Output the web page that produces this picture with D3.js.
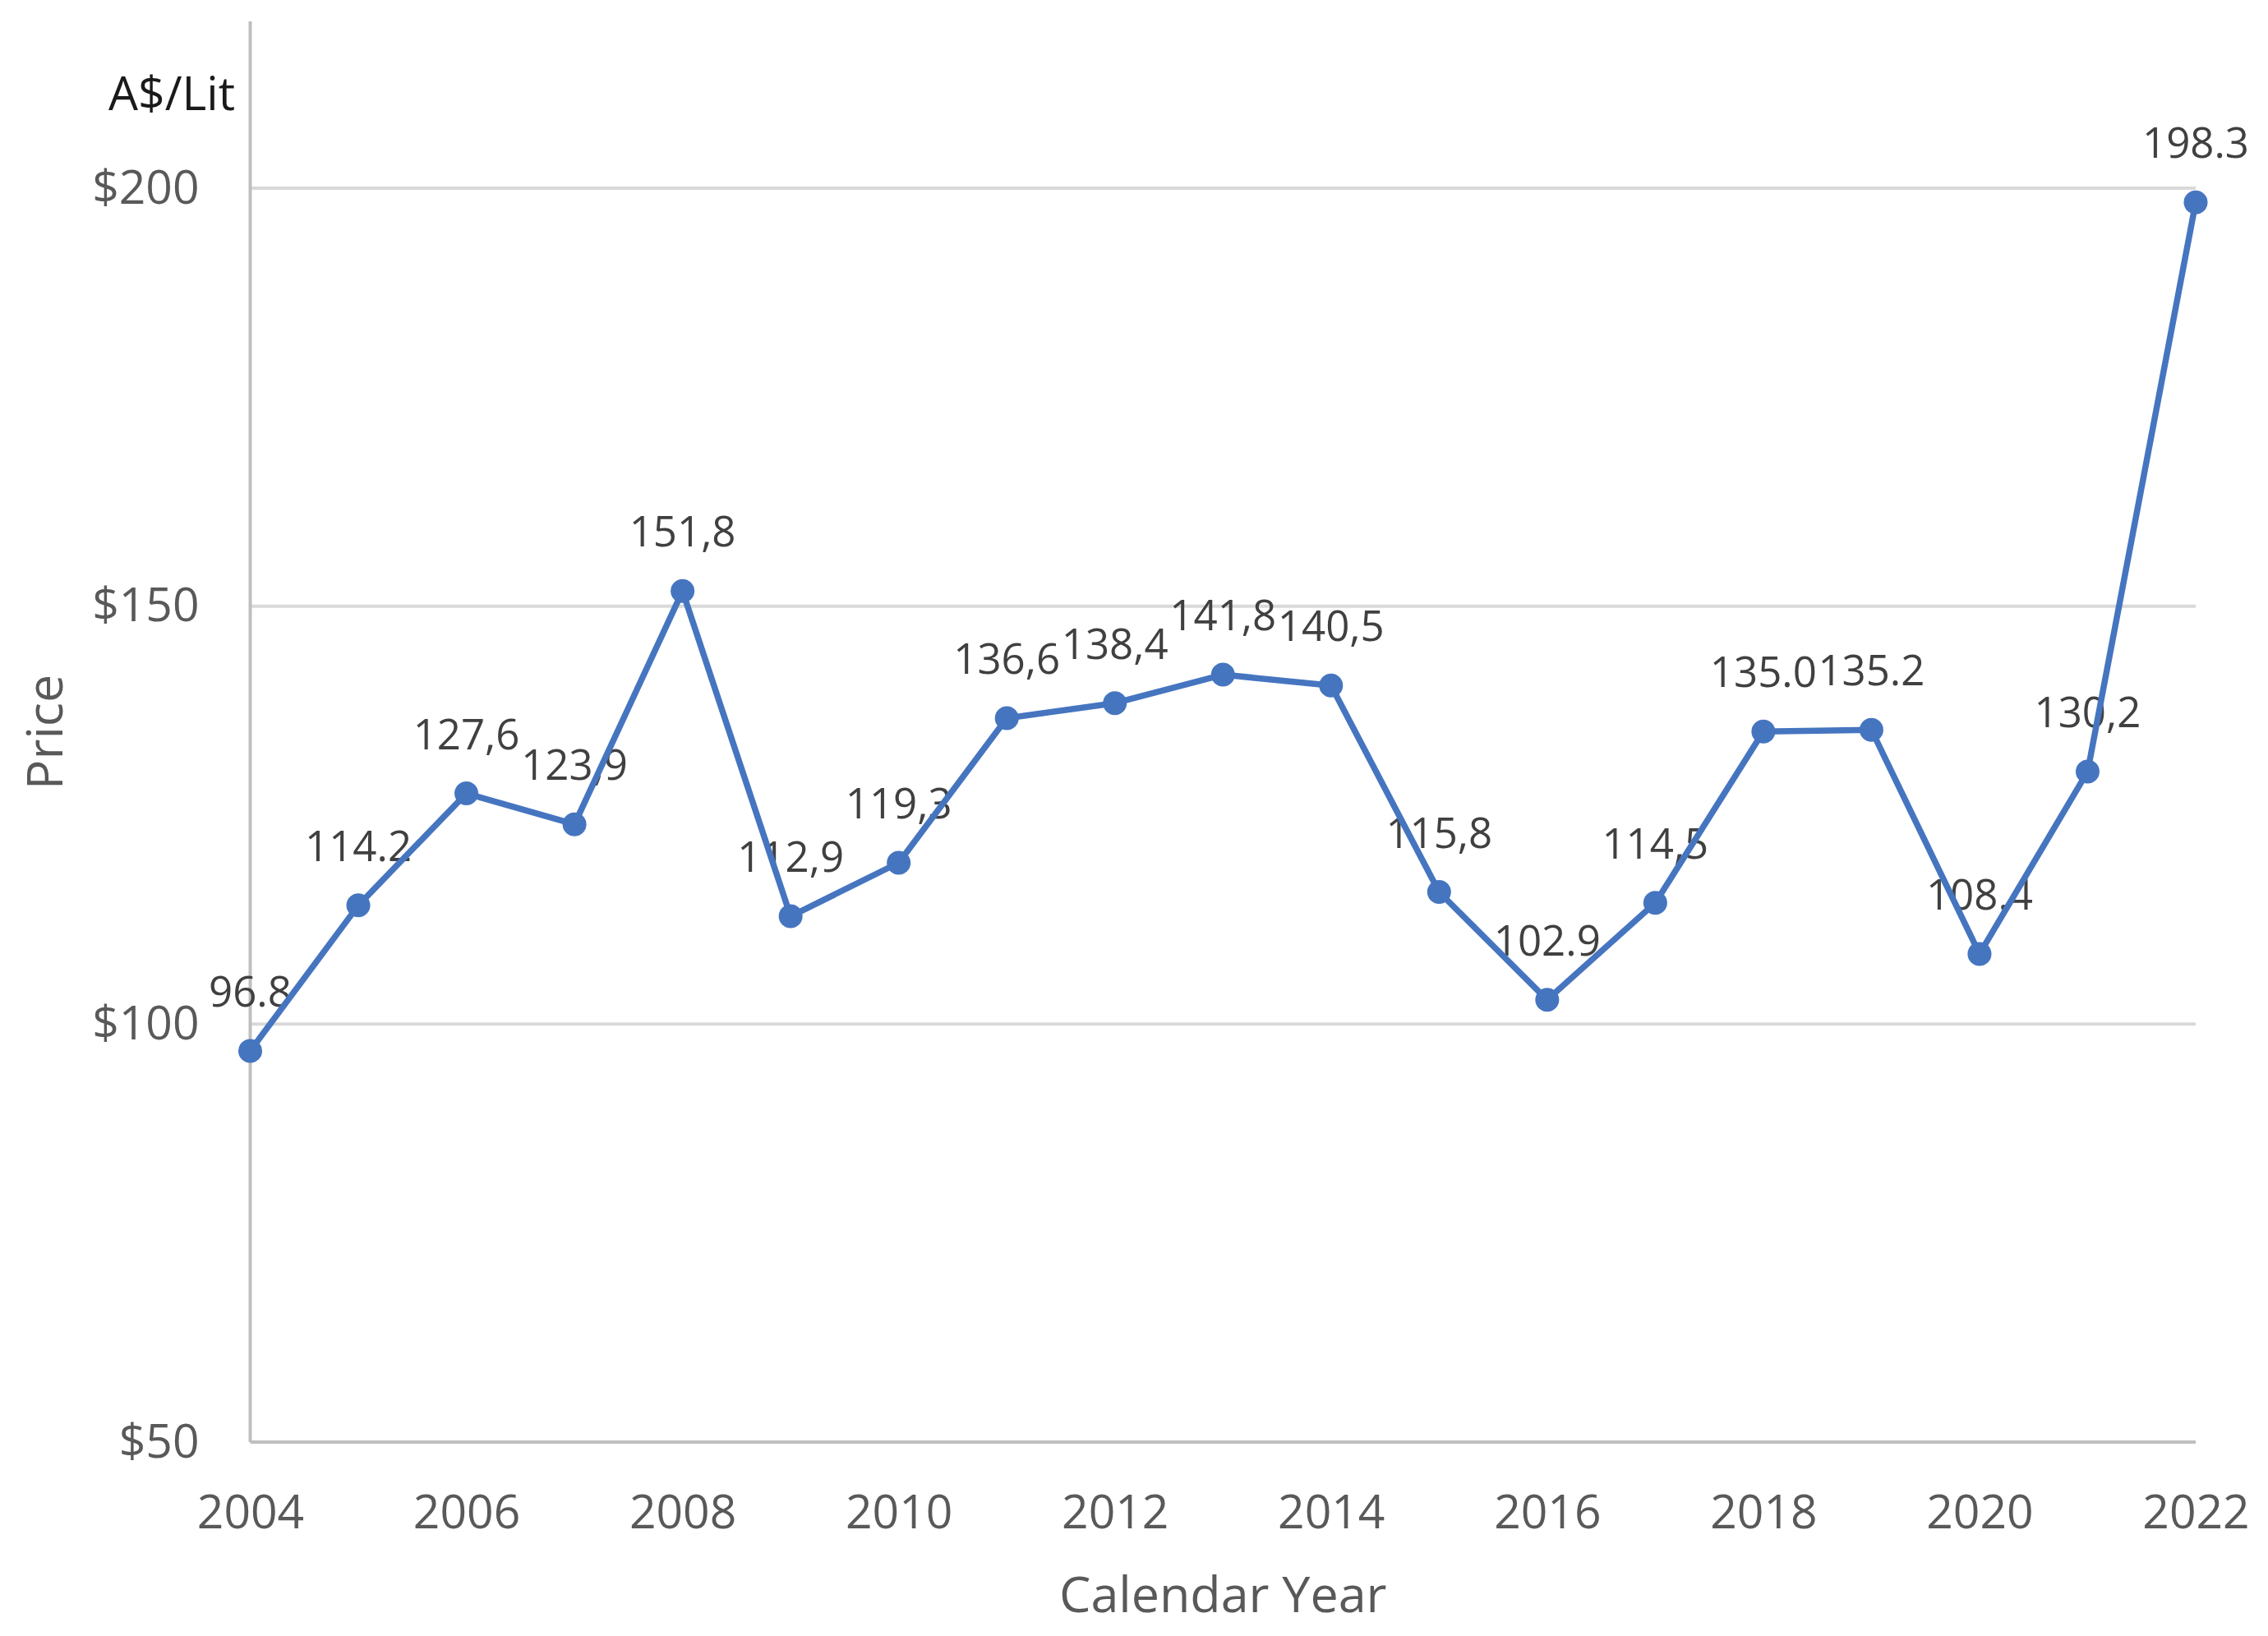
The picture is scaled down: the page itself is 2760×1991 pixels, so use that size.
<!DOCTYPE html>
<html>
<head>
<meta charset="utf-8">
<script src="https://cdn.jsdelivr.net/npm/d3@7"></script>
<style>
  html, body { margin: 0; padding: 0; background: #ffffff; }
  svg { display: block; font-family: "Open Sans", "Noto Sans", sans-serif; }
</style>
</head>
<body>
<svg id="chart" width="2760" height="1991"></svg>
<script>
// ---- data ----
const years = [2004, 2005, 2006, 2007, 2008, 2009, 2010, 2011, 2012, 2013, 2014, 2015, 2016, 2017, 2018, 2019, 2020, 2021, 2022];
const prices = [96.8, 114.2, 127.6, 123.9, 151.8, 112.9, 119.3, 136.6, 138.4, 141.8, 140.5, 115.8, 102.9, 114.5, 135.0, 135.2, 108.4, 130.2, 198.3];
const priceLabels = ["96.8", "114.2", "127,6", "123,9", "151,8", "112,9", "119,3", "136,6", "138,4", "141,8", "140,5", "115,8", "102.9", "114,5", "135.0", "135.2", "108.4", "130,2", "198.3"];
const xTicks = [2004, 2006, 2008, 2010, 2012, 2014, 2016, 2018, 2020, 2022];
const yTicks = [50, 100, 150, 200];
const yTickLabels = ["$50", "$100", "$150", "$200"];
const unitLabel = "A$/Lit";
const xTitle = "Calendar Year";
const yTitle = "Price";

// ---- layout ----
const plotLeft = 304.5, plotRight = 2672, plotTop = 229, plotBottom = 1755;
const svg = d3.select("#chart");

const x = d3.scaleLinear().domain([2004, 2022]).range([plotLeft, plotRight]);
const y = d3.scaleLinear().domain([50, 200]).range([plotBottom, plotTop]);

// gridlines
svg.append("g")
  .selectAll("line")
  .data(yTicks.filter(d => d > 50))
  .join("line")
  .attr("x1", plotLeft).attr("x2", plotRight)
  .attr("y1", d => y(d)).attr("y2", d => y(d))
  .attr("stroke", "#d9d9d9").attr("stroke-width", 4);

// y axis
const yAxis = d3.axisLeft(y)
  .tickValues(yTicks)
  .tickSize(0)
  .tickPadding(62)
  .tickFormat((d, i) => yTickLabels[i]);
const gy = svg.append("g").attr("transform", `translate(${plotLeft},0)`).call(yAxis);
gy.select(".domain").remove();
gy.selectAll("text")
  .attr("font-family", "Open Sans, Noto Sans, sans-serif")
  .attr("font-size", 57)
  .attr("fill", "#595959");

// y axis line (extends above plot)
svg.append("line")
  .attr("x1", plotLeft).attr("x2", plotLeft)
  .attr("y1", 26).attr("y2", plotBottom)
  .attr("stroke", "#bfbfbf").attr("stroke-width", 4);

// x axis
const xAxis = d3.axisBottom(x)
  .tickValues(xTicks)
  .tickSize(0)
  .tickPadding(64)
  .tickFormat(d3.format("d"));
const gx = svg.append("g").attr("transform", `translate(0,${plotBottom})`).call(xAxis);
gx.select(".domain").remove();
gx.selectAll("text")
  .attr("font-family", "Open Sans, Noto Sans, sans-serif")
  .attr("font-size", 57)
  .attr("fill", "#595959")
  .attr("dy", "0")
  .attr("y", 105);

svg.append("line")
  .attr("x1", plotLeft).attr("x2", plotRight)
  .attr("y1", plotBottom).attr("y2", plotBottom)
  .attr("stroke", "#bfbfbf").attr("stroke-width", 4);

// titles
svg.append("text")
  .attr("x", (plotLeft + plotRight) / 2)
  .attr("y", 1962)
  .attr("text-anchor", "middle")
  .attr("font-size", 61)
  .attr("fill", "#595959")
  .text(xTitle);

svg.append("text")
  .attr("transform", `translate(76,891) rotate(-90)`)
  .attr("text-anchor", "middle")
  .attr("font-size", 61)
  .attr("fill", "#595959")
  .text(yTitle);

svg.append("text")
  .attr("x", 286)
  .attr("y", 134)
  .attr("text-anchor", "end")
  .attr("font-size", 57)
  .attr("fill", "#1a1a1a")
  .text(unitLabel);

// data labels (drawn beneath the line)
const data = years.map((yr, i) => ({ yr, v: prices[i], lab: priceLabels[i] }));
svg.append("g")
  .selectAll("text")
  .data(data)
  .join("text")
  .attr("x", d => x(d.yr))
  .attr("y", d => y(d.v) - 54)
  .attr("text-anchor", "middle")
  .attr("font-size", 51)
  .attr("fill", "#404040")
  .text(d => d.lab);

// line
const lineGen = d3.line().x(d => x(d.yr)).y(d => y(d.v));
svg.append("path")
  .datum(data)
  .attr("d", lineGen)
  .attr("fill", "none")
  .attr("stroke", "#4675c0")
  .attr("stroke-width", 7.5)
  .attr("stroke-linejoin", "round");

// markers
svg.append("g")
  .selectAll("circle")
  .data(data)
  .join("circle")
  .attr("cx", d => x(d.yr))
  .attr("cy", d => y(d.v))
  .attr("r", 14.5)
  .attr("fill", "#4675c0");
</script>
</body>
</html>
